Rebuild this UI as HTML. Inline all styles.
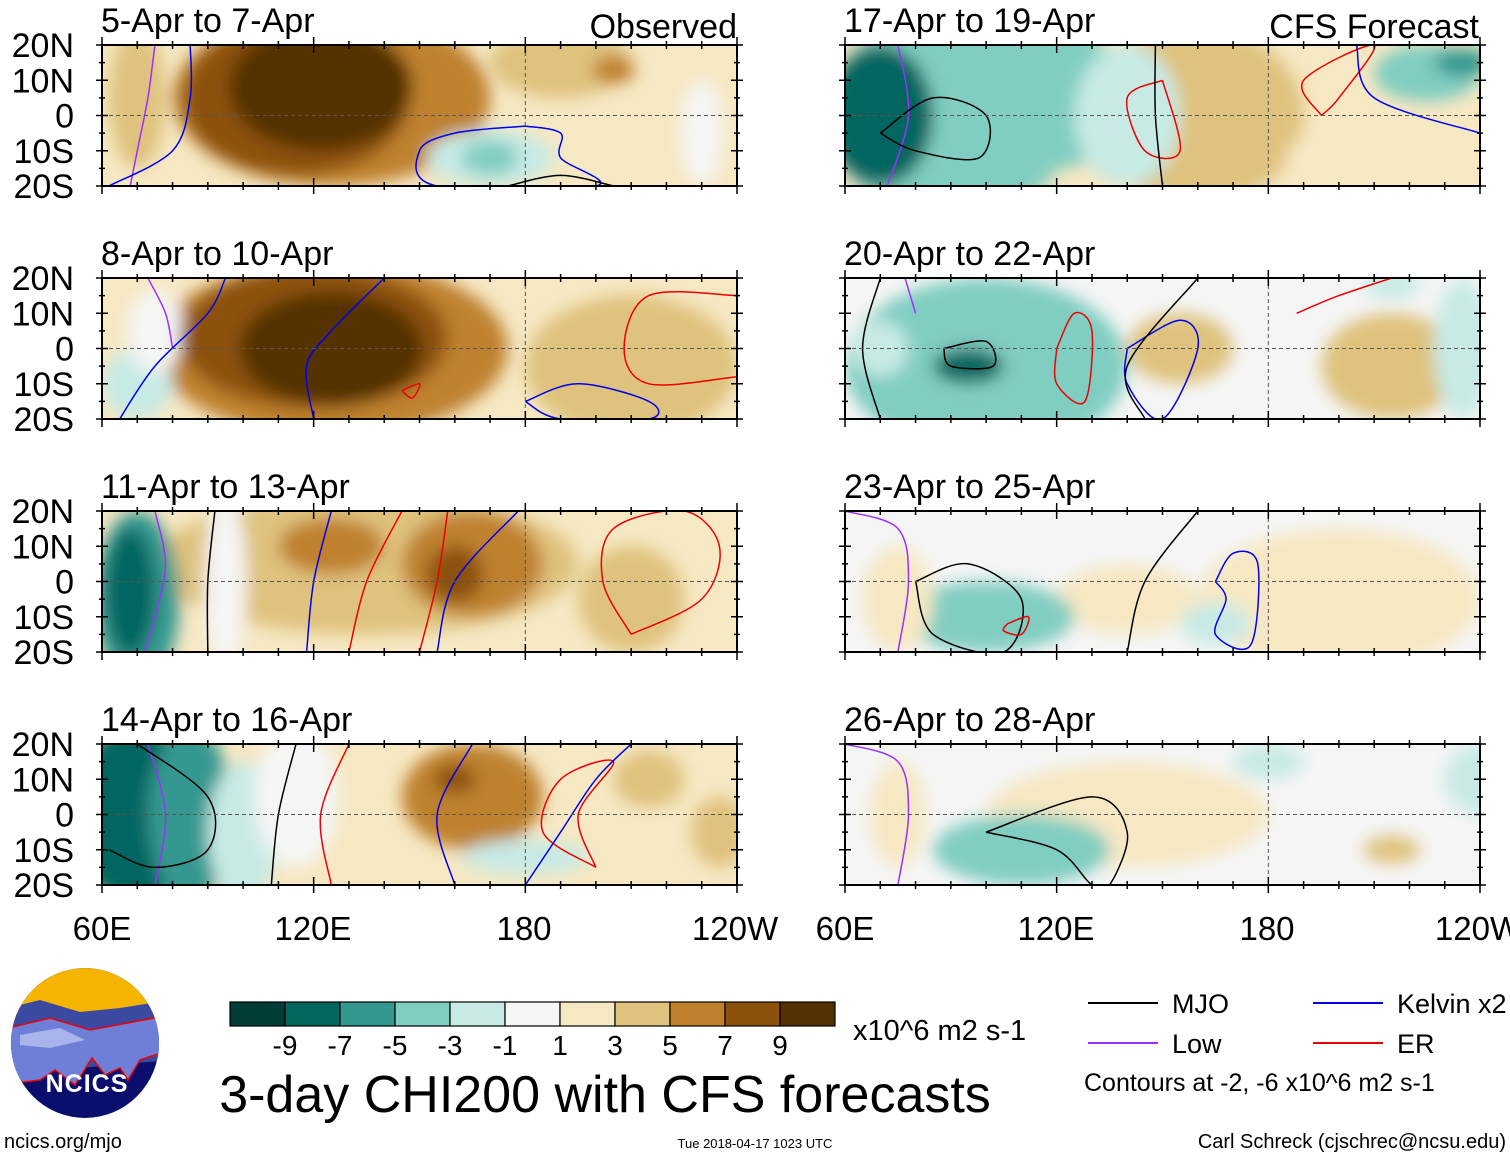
<!DOCTYPE html>
<html><head><meta charset="utf-8">
<style>
html,body{margin:0;padding:0;background:#fff;}
body{width:1510px;height:1158px;position:relative;overflow:hidden;font-family:"Liberation Sans",sans-serif;}
svg{position:absolute;left:0;top:0;}
</style></head>
<body>
<svg id="chart" width="1510" height="1158" viewBox="0 0 1510 1158" xmlns="http://www.w3.org/2000/svg">
<defs>
<filter id="blur" x="-20%" y="-20%" width="140%" height="140%"><feGaussianBlur stdDeviation="8"/></filter>
</defs>
</svg>
<script>
const levelColors=["#013c36","#03665e","#359890","#80cdc1","#c7eae5","#f5f5f5","#f6e8c3","#dfc27d","#bf812d","#8c510a","#543005"];
const tickLabels=["-9","-7","-5","-3","-1","1","3","5","7","9"];
const panelTitles=["5-Apr to 7-Apr","8-Apr to 10-Apr","11-Apr to 13-Apr","14-Apr to 16-Apr","17-Apr to 19-Apr","20-Apr to 22-Apr","23-Apr to 25-Apr","26-Apr to 28-Apr"];
const panelBg=[6,6,6,6,6,5,5,5];
// blobs: [lon, lat, rxDeg, ryDeg, level]
const blobs0=[[70,5,8,20,7],[125,5,45,25,8],[190,15,20,10,7],[205,13,6,4,8],[115,5,32,22,9],[122,8,26,18,10],[170,-12,18,8,4],[170,-12,8,5,3],[230,-5,6,15,5]];
const blobs1=[[125,0,50,25,8],[210,-5,30,20,7],[70,-10,10,10,4],[75,5,8,12,5],[120,3,38,20,9],[125,0,26,16,10]];
const blobs2=[[135,5,60,20,7],[210,-5,15,15,7],[70,-5,12,25,2],[68,-3,7,18,1],[165,5,20,15,8],[125,10,15,8,8],[160,2,8,8,9],[95,0,6,25,5]];
const blobs3=[[165,5,20,15,8],[215,10,10,8,7],[70,0,20,25,1],[85,0,12,25,2],[100,-5,10,20,4],[115,5,12,20,5],[160,10,6,4,9],[180,-12,18,5,4],[235,-5,8,10,7]];
const blobs4=[[160,0,30,25,7],[200,-12,15,8,6],[90,0,35,30,3],[120,5,20,20,3],[140,0,15,20,4],[225,12,15,8,3],[70,0,15,20,1],[235,15,8,4,2]];
const blobs5=[[155,0,15,10,7],[215,-5,20,15,7],[100,-5,40,25,3],[95,-5,10,5,1],[70,0,8,8,4],[235,0,8,20,4],[215,18,8,4,4]];
const blobs6=[[200,-5,40,20,6],[140,-5,20,10,6],[100,-10,25,10,3],[165,-12,10,6,4],[75,-5,10,15,6]];
const blobs7=[[140,0,40,15,6],[215,-10,8,4,7],[110,-10,25,10,3],[240,10,10,10,4],[180,15,10,5,4],[75,0,8,15,6]];
const allBlobs=[blobs0,blobs1,blobs2,blobs3,blobs4,blobs5,blobs6,blobs7];
// contours: [type, [[lon,lat],...]]
const contours0=[["low",[[75,20],[73,5],[70,-10],[68,-20]]],["kelvin",[[85,20],[85,5],[80,-10],[62,-20]]],["kelvin",[[180,-3],[160,-5],[150,-10],[155,-20],[200,-20],[190,-12],[190,-5],[180,-3]]],["mjo",[[175,-20],[190,-17],[205,-20]]]];
const contours1=[["low",[[73,20],[78,10],[80,0]]],["kelvin",[[65,-20],[75,-5],[90,10],[95,20]]],["kelvin",[[120,-20],[118,-5],[125,5],[140,20]]],["er",[[240,15],[215,15],[208,0],[215,-10],[240,-8]]],["kelvin",[[180,-15],[195,-10],[215,-15],[215,-20],[190,-20],[180,-15]]],["er",[[145,-12],[150,-10],[148,-14],[145,-12]]]]; 
const contours2=[["low",[[75,20],[78,5],[75,-10],[72,-20]]],["mjo",[[90,-20],[90,0],[92,20]]],["kelvin",[[118,-20],[120,0],[125,20]]],["er",[[130,-20],[135,0],[145,20]]],["er",[[150,-20],[155,0],[158,20]]],["kelvin",[[155,-20],[160,0],[178,20]]],["er",[[210,-15],[230,-5],[235,10],[225,20],[205,15],[202,0],[210,-15]]]];
const contours3=[["low",[[73,20],[78,0],[75,-20]]],["mjo",[[70,20],[90,5],[90,-10],[75,-15],[62,-10]]],["mjo",[[108,-20],[110,0],[115,20]]],["er",[[125,-20],[122,0],[130,20]]],["kelvin",[[160,-20],[155,0],[165,20]]],["er",[[200,-15],[185,-5],[190,10],[205,15],[195,0],[200,-15]]],["kelvin",[[180,-20],[190,-5],[200,10],[210,20]]]];
const contours4=[["low",[[75,20],[78,0],[72,-20]]],["mjo",[[70,-5],[85,5],[100,0],[98,-12],[80,-10],[70,-5]]],["er",[[150,10],[155,-10],[145,-10],[140,5],[150,10]]],["mjo",[[150,-20],[148,0],[148,20]]],["er",[[195,0],[190,10],[210,20],[200,5],[195,0]]],["kelvin",[[205,20],[210,5],[240,-5]]]];
const contours5=[["mjo",[[70,-20],[65,0],[70,20]]],["low",[[77,20],[80,10]]],["mjo",[[88,0],[100,2],[102,-5],[90,-5],[88,0]]],["er",[[120,0],[125,10],[130,5],[128,-15],[120,-10],[120,0]]],["kelvin",[[140,0],[155,8],[160,0],[150,-20],[140,-10],[140,0]]],["mjo",[[145,-20],[140,-5],[160,20]]],["er",[[188,10],[200,15],[215,20]]]];
const contours6=[["low",[[60,20],[75,15],[78,0],[75,-20]]],["mjo",[[80,0],[95,5],[110,-5],[105,-20],[85,-15],[80,0]]],["er",[[106,-12],[112,-10],[110,-15],[105,-14],[106,-12]]],["mjo",[[140,-20],[145,0],[160,20]]],["kelvin",[[165,0],[170,8],[177,5],[175,-18],[165,-15],[168,-5],[165,0]]]];
const contours7=[["low",[[60,20],[75,15],[78,0],[75,-20]]],["mjo",[[100,-5],[130,5],[140,-5],[135,-20],[130,-20],[120,-10],[100,-5]]]];
const allContours=[contours0,contours1,contours2,contours3,contours4,contours5,contours6,contours7];
const lineColors={mjo:"#000",low:"#9b30ff",kelvin:"#0000ee",er:"#ee0000"};

const NS="http://www.w3.org/2000/svg";
const svg=document.getElementById("chart");
function mk(tag,attrs,parent){const e=document.createElementNS(NS,tag);for(const k in attrs)e.setAttribute(k,attrs[k]);(parent||svg).appendChild(e);return e;}
const PW=635,PH=141;
const lefts=[102,845],tops=[45,278,511,744];
function xs(x0,lon){return x0+(lon-60)/180*PW;}
function ys(y0,lat){return y0+(20-lat)/40*PH;}
function smooth(pts){
  if(pts.length<3)return "M"+pts.map(p=>p[0].toFixed(1)+","+p[1].toFixed(1)).join(" L");
  let d="M"+pts[0][0].toFixed(1)+","+pts[0][1].toFixed(1);
  for(let i=0;i<pts.length-1;i++){
    const p0=pts[Math.max(0,i-1)],p1=pts[i],p2=pts[i+1],p3=pts[Math.min(pts.length-1,i+2)];
    const c1=[p1[0]+(p2[0]-p0[0])/6,p1[1]+(p2[1]-p0[1])/6];
    const c2=[p2[0]-(p3[0]-p1[0])/6,p2[1]-(p3[1]-p1[1])/6];
    d+=" C"+c1[0].toFixed(1)+","+c1[1].toFixed(1)+" "+c2[0].toFixed(1)+","+c2[1].toFixed(1)+" "+p2[0].toFixed(1)+","+p2[1].toFixed(1);
  }
  return d;
}

allBlobs.forEach((bl,i)=>{
  const x0=lefts[i<4?0:1],y0=tops[i%4];
  const g=mk("g",{});
  
  
  const cp=mk("clipPath",{id:"cp"+i},g);
  mk("rect",{x:x0,y:y0,width:PW,height:PH},cp);
  const inner=mk("g",{"clip-path":"url(#cp"+i+")"},g);
  mk("rect",{x:x0,y:y0,width:PW,height:PH,fill:levelColors[panelBg[i]]},inner);
  const bg=mk("g",{filter:"url(#blur)"},inner);
  bl.forEach(b=>{
    const e=mk("ellipse",{cx:xs(x0,b[0]),cy:ys(y0,b[1]),rx:b[2]/180*PW,ry:b[3]/40*PH,fill:levelColors[b[4]]},bg);
    
    
  });
  allContours[i].forEach(c=>{
    const pts=c[1].map(p=>[xs(x0,p[0]),ys(y0,p[1])]);
    const p=mk("path",{d:smooth(pts),fill:"none",stroke:lineColors[c[0]],"stroke-width":1.5,"stroke-linejoin":"round"},inner);
    
    
  });
  mk("line",{x1:x0,x2:x0+PW,y1:ys(y0,0),y2:ys(y0,0),stroke:"#555","stroke-dasharray":"4,3","stroke-width":1},inner);
  mk("line",{x1:xs(x0,180),x2:xs(x0,180),y1:y0,y2:y0+PH,stroke:"#555","stroke-dasharray":"4,3","stroke-width":1},inner);
  mk("rect",{x:x0,y:y0,width:PW,height:PH,fill:"none",stroke:"#000","stroke-width":2},g);
  for(let lon=60;lon<=240;lon+=10){const x=xs(x0,lon);const L=(lon%60==0)?8:4;
    mk("line",{x1:x,x2:x,y1:y0-L,y2:y0+L,stroke:"#000","stroke-width":1.5},g);
    mk("line",{x1:x,x2:x,y1:y0+PH-L,y2:y0+PH+L,stroke:"#000","stroke-width":1.5},g);}
  for(let lat=-20;lat<=20;lat+=5){const y=ys(y0,lat);const L=(lat%10==0)?6:3;
    mk("line",{x1:x0-L,x2:x0+L,y1:y,y2:y,stroke:"#000","stroke-width":1.5},g);
    mk("line",{x1:x0+PW-L,x2:x0+PW+L,y1:y,y2:y,stroke:"#000","stroke-width":1.5},g);}
  const t=mk("text",{x:x0-1,y:y0-13,"font-size":34,fill:"#000"},g);t.textContent=panelTitles[i];
  
  
  if(i<4){["20N","10N","0","10S","20S"].forEach((s,k)=>{const tt=mk("text",{x:74,y:y0+k*PH/4+12,"font-size":34,"text-anchor":"end"},g);tt.textContent=s;
    
    });}
});
[[102,"60E"],[313,"120E"],[524,"180"],[735,"120W"]].forEach(a=>{[0,743].forEach(off=>{const t=mk("text",{x:a[0]+off,y:940,"font-size":33,"text-anchor":"middle"});t.textContent=a[1];
  
  });});
let t1=mk("text",{x:737,y:38,"font-size":34,"text-anchor":"end"});t1.textContent="Observed";


let t2=mk("text",{x:1479,y:38,"font-size":34,"text-anchor":"end"});t2.textContent="CFS Forecast";



const cb=mk("g",{});


levelColors.forEach((c,k)=>{mk("rect",{x:230+k*55,y:1002,width:55,height:24,fill:c,stroke:"#000","stroke-width":1.2},cb);});
tickLabels.forEach((s,k)=>{const t=mk("text",{x:230+(k+1)*55,y:1055,"font-size":28,"text-anchor":"middle"},cb);t.textContent=s;
  
  });
let u=mk("text",{x:853,y:1040,"font-size":29});u.textContent="x10^6 m2 s-1";


let ti=mk("text",{x:605,y:1112,"font-size":52,"text-anchor":"middle"});ti.textContent="3-day CHI200 with CFS forecasts";



[[1088,1003,"mjo","MJO"],[1088,1043,"low","Low"],[1313,1003,"kelvin","Kelvin x2"],[1313,1043,"er","ER"]].forEach(a=>{
  const g=mk("g",{});
  
  
  mk("line",{x1:a[0],x2:a[0]+70,y1:a[1],y2:a[1],stroke:lineColors[a[2]],"stroke-width":2},g);
  const t=mk("text",{x:a[0]+84,y:a[1]+10,"font-size":27},g);t.textContent=a[3];});
let cn=mk("text",{x:1084,y:1091,"font-size":25});cn.textContent="Contours at -2, -6 x10^6 m2 s-1";


let f1=mk("text",{x:4,y:1148,"font-size":20});f1.textContent="ncics.org/mjo";


let f2=mk("text",{x:755,y:1148,"font-size":13,"text-anchor":"middle"});f2.textContent="Tue 2018-04-17 1023 UTC";


let f3=mk("text",{x:1506,y:1148,"font-size":20,"text-anchor":"end"});f3.textContent="Carl Schreck (cjschrec@ncsu.edu)";



const lg=mk("g",{});


const lcp=mk("clipPath",{id:"logoclip"},lg);
mk("ellipse",{cx:85,cy:1043,rx:74,ry:75},lcp);
const li=mk("g",{"clip-path":"url(#logoclip)"},lg);
mk("rect",{x:0,y:960,width:170,height:200,fill:"#0a0f6e"},li);
mk("rect",{x:0,y:960,width:170,height:55,fill:"#f4b400"},li);
mk("path",{d:"M0,1010 L40,1000 L80,1012 L120,1008 L170,1000 L170,1060 L0,1075Z",fill:"#3b4aa0"},li);
mk("path",{d:"M0,1030 L50,1018 L90,1030 L170,1015 L170,1050 L140,1060 L128,1080 L120,1068 L105,1075 L92,1058 L75,1085 L55,1070 L40,1080 L0,1085Z",fill:"#6f7fd8",stroke:"#e00","stroke-width":1.5},li);
mk("path",{d:"M20,1035 L60,1028 L85,1040 L50,1048 L20,1045Z",fill:"#a9b4ec"},li);
let lt=mk("text",{x:87,y:1092,"font-size":25,"font-weight":"bold",fill:"#fff","text-anchor":"middle","letter-spacing":"1"},lg);lt.textContent="NCICS";
</script>
</body></html>
